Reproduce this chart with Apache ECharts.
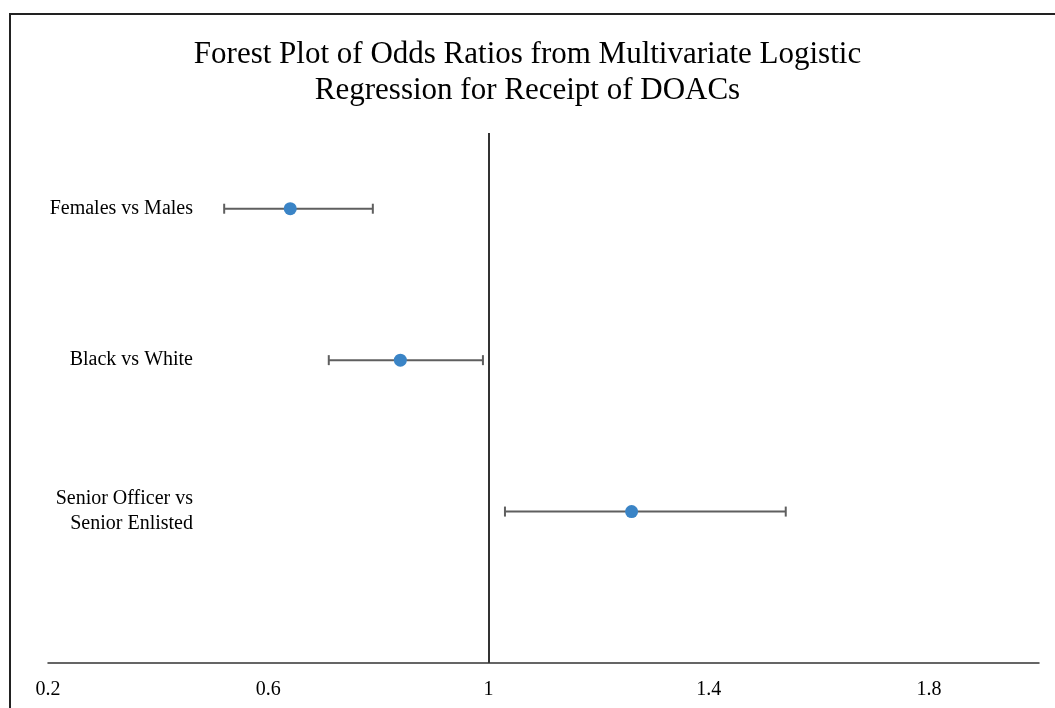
<!DOCTYPE html>
<html>
<head>
<meta charset="utf-8">
<script src="https://cdn.jsdelivr.net/npm/echarts@6/dist/echarts.min.js"></script>
<style>
  html, body { margin: 0; padding: 0; background: #fff; }
  #chart { width: 1055px; height: 708px; }
</style>
</head>
<body>
<div id="chart"></div>
<script>
// odds ratios, bottom to top
var labels = ['Senior Officer vs\nSenior Enlisted', 'Black vs White', 'Females vs Males'];
var rowPos = [1, 2, 3];
var oddsRatio = [1.26, 0.84, 0.64];
var ciLow = [1.03, 0.71, 0.52];
var ciHigh = [1.54, 0.99, 0.79];
var xTicks = [0.2, 0.6, 1, 1.4, 1.8];

var serif = '"Liberation Serif", "Times New Roman", serif';

var chart = echarts.init(document.getElementById('chart'));

var barData = [];
var pointData = [];
for (var i = 0; i < rowPos.length; i++) {
  barData.push([ciLow[i], ciHigh[i], rowPos[i]]);
  pointData.push([oddsRatio[i], rowPos[i]]);
}

chart.setOption({
  animation: false,
  backgroundColor: '#fff',
  title: {
    text: 'Forest Plot of Odds Ratios from Multivariate Logistic\nRegression for Receipt of DOACs',
    left: 'center',
    top: 32,
    textStyle: {
      fontFamily: serif,
      fontSize: 31,
      fontWeight: 'normal',
      color: '#000',
      lineHeight: 36
    }
  },
  // outer frame of the original picture
  graphic: [{
    type: 'rect',
    shape: { x: 10, y: 14, width: 1100, height: 800 },
    style: { fill: 'none', stroke: '#222', lineWidth: 2 },
    silent: true
  }],
  grid: { left: 48, right: 16, top: 133, bottom: 45 },
  xAxis: {
    type: 'value',
    min: 0.2,
    max: 2.0,
    splitLine: { show: false },
    axisTick: { show: false },
    axisLine: { lineStyle: { color: '#333', width: 1.5 } },
    axisLabel: {
      customValues: xTicks,
      margin: 17,
      fontFamily: serif,
      fontSize: 20,
      color: '#000'
    }
  },
  yAxis: {
    type: 'value',
    min: 0,
    max: 3.5,
    splitLine: { show: false },
    axisTick: { show: false },
    axisLine: { show: false },
    axisLabel: {
      customValues: rowPos,
      inside: true,
      align: 'right',
      margin: 145,
      fontFamily: serif,
      fontSize: 20,
      lineHeight: 25,
      color: '#000',
      formatter: function (v) {
        var k = rowPos.indexOf(v);
        return k >= 0 ? labels[k] : '';
      }
    }
  },
  series: [
    {
      type: 'custom',
      data: barData,
      encode: { x: [0, 1], y: 2 },
      z: 2,
      renderItem: function (params, api) {
        var y = api.value(2);
        var p1 = api.coord([api.value(0), y]);
        var p2 = api.coord([api.value(1), y]);
        var h = 5;
        var st = { stroke: '#5f5f5f', lineWidth: 2 };
        return {
          type: 'group',
          children: [
            { type: 'line', shape: { x1: p1[0], y1: p1[1], x2: p2[0], y2: p2[1] }, style: st },
            { type: 'line', shape: { x1: p1[0], y1: p1[1] - h, x2: p1[0], y2: p1[1] + h }, style: st },
            { type: 'line', shape: { x1: p2[0], y1: p2[1] - h, x2: p2[0], y2: p2[1] + h }, style: st }
          ]
        };
      },
      markLine: {
        silent: true,
        symbol: 'none',
        label: { show: false },
        lineStyle: { color: '#333', width: 2, type: 'solid' },
        data: [{ xAxis: 1 }]
      }
    },
    {
      type: 'scatter',
      data: pointData,
      symbol: 'circle',
      symbolSize: 13,
      z: 3,
      itemStyle: { color: '#3a84c6', opacity: 1 }
    }
  ]
});
</script>
</body>
</html>
